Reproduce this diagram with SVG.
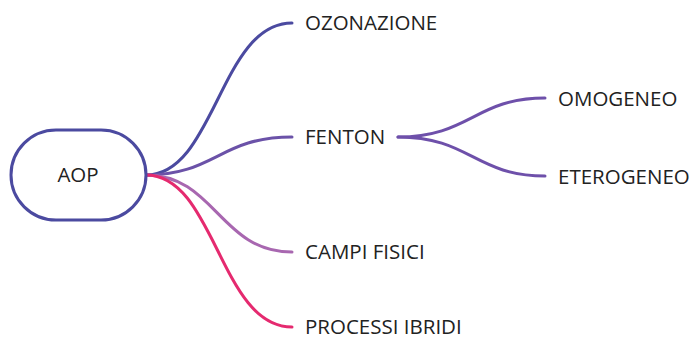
<svg xmlns="http://www.w3.org/2000/svg" width="690" height="337" viewBox="0 0 690 337">
<style>
text{font-family:"Open Sans","Noto Sans",sans-serif;font-size:20.5px;fill:#222}
.c{fill:none;stroke-width:3;stroke-linecap:round}
</style>
<rect width="690" height="337" fill="#fff"/>
<g id="connectors">
<path class="c" stroke="#4b4aa0" d="M146,175 C215,175 220,23 292,23"/>
<path class="c" stroke="#6b52a8" d="M146,175 C215,175 220,137 292,137"/>
<path class="c" stroke="#a867b0" d="M146,175 C215,175 220,252 292,252"/>
<path class="c" stroke="#e52a6f" d="M146,175 C215,175 220,327 292,327"/>
<path class="c" stroke="#6e50aa" d="M398,137 C470,137 475,98 545,98"/>
<path class="c" stroke="#6e50aa" d="M398,137 C470,137 475,176 545,176"/>
</g>
<g id="aop"><rect x="11" y="130" width="135" height="90" rx="45" fill="#fff" stroke="#4b4aa0" stroke-width="3"/><text x="78" y="182" text-anchor="middle">AOP</text></g>
<g id="ozonazione"><text x="305" y="30">OZONAZIONE</text></g>
<g id="fenton"><text x="305" y="144">FENTON</text></g>
<g id="campi"><text x="305" y="259">CAMPI FISICI</text></g>
<g id="processi"><text x="305" y="334">PROCESSI IBRIDI</text></g>
<g id="omogeneo"><text x="558" y="106">OMOGENEO</text></g>
<g id="eterogeneo"><text x="558" y="184">ETEROGENEO</text></g>
</svg>
